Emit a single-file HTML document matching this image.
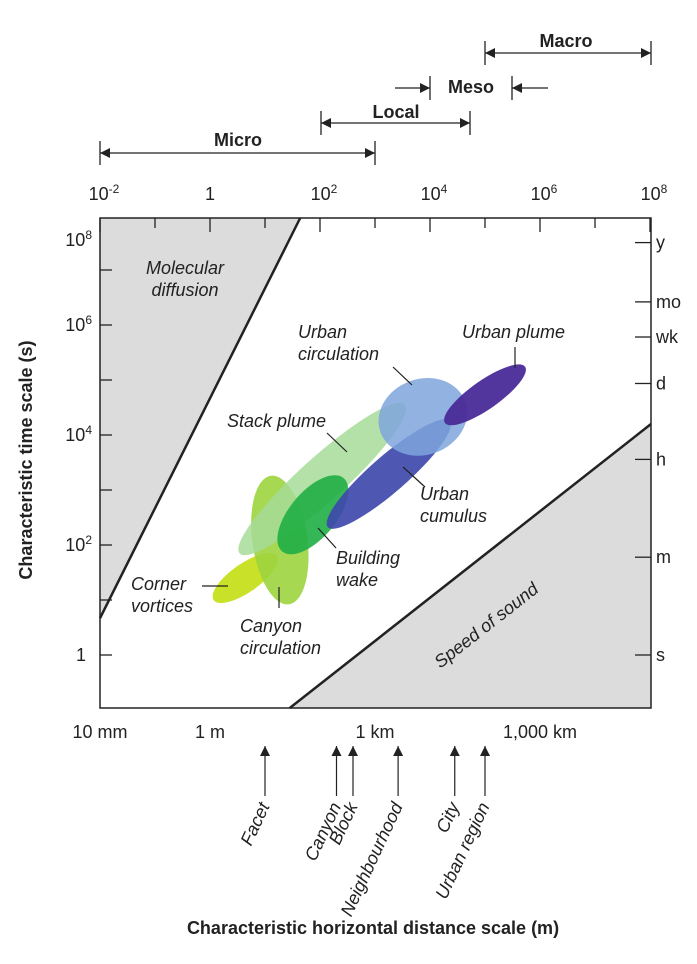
<!DOCTYPE html>
<html><head><meta charset="utf-8">
<style>
body{margin:0;background:#fff;}
svg{display:block;font-family:"Liberation Sans","DejaVu Sans",sans-serif;}
.t{font-size:18px;fill:#222;}
.i{font-size:18px;fill:#222;font-style:italic;}
.b{font-size:18px;fill:#222;font-weight:bold;}
</style></head><body>
<svg id="c" width="697" height="964" viewBox="0 0 697 964">
<defs>
<marker id="ah" viewBox="0 0 10 10" refX="10" refY="5" markerWidth="10" markerHeight="10" orient="auto-start-reverse" markerUnits="userSpaceOnUse"><path d="M0,0L10,5L0,10z" fill="#222"/></marker>
</defs>
<g id="g"></g>
</svg>
<script>
// data (log10 units)
const names=["Corner vortices","Canyon circulation","Stack plume","Building wake","Urban cumulus","Urban circulation","Urban plume"];
const centerLogX=[0.64,1.27,2.04,1.87,3.25,3.87,5.0];
const centerLogT=[1.40,2.09,3.20,2.55,3.29,4.33,4.73];
const spanMajor=[0.70,1.18,2.02,0.87,1.47,0.82,0.89];
const spanMinor=[0.26,0.50,0.40,0.42,0.33,0.69,0.26];
const angles=[-35,82,-42,-50,-41,-20,-35];
const colors=["#c6df1c","#9dd43e","#a6dc98","#1fae45","#3f4aab","#7fa6dd","#4a2b98"];
const opac=[0.95,0.9,0.85,0.9,0.92,0.85,0.95];
const xTicks=[-2,-1,0,1,2,3,4,5,6,7,8];
const xTickLabels=["10-2","1","102","104","106","108"];
const xLabelVals=[-2,0,2,4,6,8];
const yTicks=[0,1,2,3,4,5,6,7];
const yLabelVals=[0,2,4,6,8];
const timeLabels=["s","m","h","d","wk","mo","y"];
const timeVals=[1,60,3600,86400,604800,2.63e6,3.15e7];
const distLabels=["10 mm","1 m","1 km","1,000 km"];
const distVals=[-2,0,3,6];
const arrowNames=["Facet","Canyon","Block","Neighbourhood","City","Urban region"];
const arrowVals=[1,2.3,2.6,3.42,4.45,5.0];
const diffusionLine=[[-2,0.67],[1.64,7.95]];
const soundLine=[[1.45,-0.96],[8,4.2]];

const X0=100,X1=651,Y0=218,Y1=708;
const sx=v=>X0+55*(v+2);
const sy=v=>655-55*v;
const NS="http://www.w3.org/2000/svg";
const G=document.getElementById('g');
function mk(tag,at,txt){const e=document.createElementNS(NS,tag);for(const k in at)e.setAttribute(k,at[k]);if(txt!=null)e.textContent=txt;G.appendChild(e);return e;}

let p=mk('path',{d:`M${X0},${Y0}L${sx(diffusionLine[1][0])},${Y0}L${sx(diffusionLine[0][0])},${sy(diffusionLine[0][1])}Z`,fill:'#dcdcdc'});


p=mk('path',{d:`M${sx(soundLine[0][0])},${Y1}L${X1},${sy(soundLine[1][1])}L${X1},${Y1}Z`,fill:'#dcdcdc'});


p=mk('line',{x1:sx(diffusionLine[0][0]),y1:sy(diffusionLine[0][1]),x2:sx(diffusionLine[1][0]),y2:Y0,stroke:'#222','stroke-width':2.5});


p=mk('line',{x1:sx(soundLine[0][0]),y1:Y1,x2:X1,y2:sy(soundLine[1][1]),stroke:'#222','stroke-width':2.5});



names.forEach((n,i)=>{
 const cx=sx(centerLogX[i]),cy=sy(centerLogT[i]);
 const e=mk('ellipse',{cx:cx,cy:cy,rx:spanMajor[i]*55,ry:spanMinor[i]*55,fill:colors[i],'fill-opacity':opac[i],transform:`rotate(${angles[i]} ${cx} ${cy})`});
 
 
});

p=mk('rect',{x:X0,y:Y0,width:X1-X0,height:Y1-Y0,fill:'none',stroke:'#222','stroke-width':1.5});



xTicks.forEach(v=>{const t=mk('line',{x1:sx(v),y1:Y0,x2:sx(v),y2:Y0+(v%2===0?14:10),stroke:'#222','stroke-width':1.3});

});
xLabelVals.forEach((v,i)=>{const s=xTickLabels[i];let t;
 if(s==="1"){t=mk('text',{x:sx(v),y:200,'text-anchor':'middle',class:'t'},"1");}
 else{t=mk('text',{x:sx(v)+4,y:200,'text-anchor':'middle',class:'t'});t.innerHTML='10<tspan dy="-7" font-size="12">'+s.slice(2)+'</tspan>';}
 
 });
yTicks.forEach(v=>{const t=mk('line',{x1:X0,y1:sy(v),x2:X0+12,y2:sy(v),stroke:'#222','stroke-width':1.3});

});
yLabelVals.forEach(v=>{let t;const y=Math.max(sy(v),240)+6;
 if(v===0)t=mk('text',{x:86,y:y,'text-anchor':'end',class:'t'},"1");
 else{t=mk('text',{x:92,y:y,'text-anchor':'end',class:'t'});t.innerHTML='10<tspan dy="-7" font-size="12">'+v+'</tspan>';}
 
 });
timeVals.forEach((v,i)=>{const y=sy(Math.log10(v));
 let t=mk('line',{x1:X1-16,y1:y,x2:X1,y2:y,stroke:'#222','stroke-width':1.3});
 
 
 t=mk('text',{x:656,y:y+6,class:'t'},timeLabels[i]);
 
 });
distVals.forEach((v,i)=>{const t=mk('text',{x:sx(v),y:738,'text-anchor':'middle',class:'t'},distLabels[i]);
 
 });
arrowVals.forEach((v,i)=>{const x=sx(v);
 let a=mk('line',{x1:x,y1:796,x2:x,y2:746,stroke:'#222','stroke-width':1.2,'marker-end':'url(#ah)'});
 
 
 let t=mk('text',{x:x+5,y:806,'text-anchor':'end',class:'i',transform:`rotate(-65 ${x+5} 806)`},arrowNames[i]);
 
 });

function bar(name,x1,x2,y,lx,ly,inward){
 let a,b;
 if(!inward){
  a=mk('line',{x1:x1,y1:y,x2:x2,y2:y,stroke:'#222','stroke-width':1.3,'marker-start':'url(#ah)','marker-end':'url(#ah)'});
 }else{
  a=mk('line',{x1:x1-35,y1:y,x2:x1,y2:y,stroke:'#222','stroke-width':1.3,'marker-end':'url(#ah)'});
  mk('line',{x1:x2+36,y1:y,x2:x2,y2:y,stroke:'#222','stroke-width':1.3,'marker-end':'url(#ah)'});
 }
 mk('line',{x1:x1,y1:y-12,x2:x1,y2:y+12,stroke:'#222','stroke-width':1.3});
 mk('line',{x1:x2,y1:y-12,x2:x2,y2:y+12,stroke:'#222','stroke-width':1.3});
 
 
 b=mk('text',{x:lx,y:ly,'text-anchor':'middle',class:'b'},name);
 
 
}
bar("Micro",100,375,153,238,146,false);
bar("Local",321,470,123,396,118,false);
bar("Meso",430,512,88,471,93,true);
bar("Macro",485,651,53,566,47,false);

function lab(lines,x,y,anchor,name){const t=mk('text',{x:x,y:y,'text-anchor':anchor,class:'i'});
 t.innerHTML=lines.map((l,i)=>`<tspan x="${x}" dy="${i?22:0}">${l}</tspan>`).join('');
 
 }
function ld(x1,y1,x2,y2){const l=mk('line',{x1:x1,y1:y1,x2:x2,y2:y2,stroke:'#222','stroke-width':1.2});
 
 }
lab(["Molecular","diffusion"],185,274,'middle','molecular-diffusion-label');
lab(["Urban","circulation"],298,338,'start','urban-circulation-label');ld(393,367,412,385);
lab(["Urban plume"],462,338,'start','urban-plume-label');ld(515,347,515,368);
lab(["Stack plume"],227,427,'start','stack-plume-label');ld(327,433,347,452);
lab(["Urban","cumulus"],420,500,'start','urban-cumulus-label');ld(403,467,425,487);
lab(["Building","wake"],336,564,'start','building-wake-label');ld(318,528,336,548);
lab(["Corner","vortices"],131,590,'start','corner-vortices-label');ld(202,586,228,586);
lab(["Canyon","circulation"],240,632,'start','canyon-circulation-label');ld(279,587,279,608);
let sl=mk('text',{x:490,y:630,'text-anchor':'middle',class:'i',transform:'rotate(-38 490 630)'},"Speed of sound");



let yt=mk('text',{x:32,y:460,'text-anchor':'middle',class:'b',transform:'rotate(-90 32 460)'},"Characteristic time scale (s)");


let xt=mk('text',{x:373,y:934,'text-anchor':'middle',class:'b'},"Characteristic horizontal distance scale (m)");


</script>
</body></html>
